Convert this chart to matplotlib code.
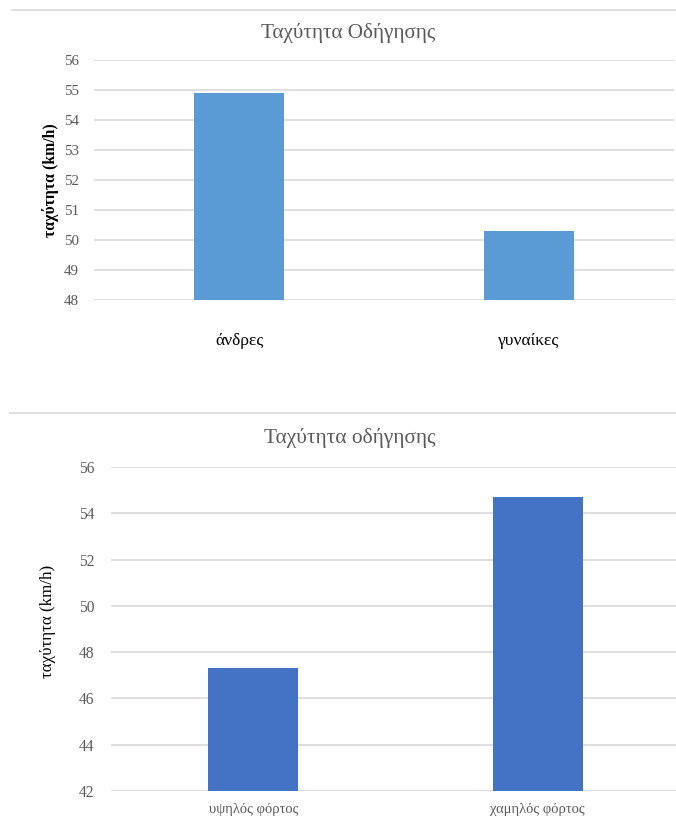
import matplotlib
matplotlib.use("Agg")
import matplotlib.pyplot as plt
from matplotlib.lines import Line2D

plt.rcParams['font.family'] = ['Liberation Serif', 'DejaVu Serif']

# Data
gender_labels = ['άνδρες', 'γυναίκες']
gender_speed = [54.9, 50.3]
gender_ticks = [48, 49, 50, 51, 52, 53, 54, 55, 56]

load_labels = ['υψηλός φόρτος', 'χαμηλός φόρτος']
load_speed = [47.3, 54.7]
load_ticks = [42, 44, 46, 48, 50, 52, 54, 56]

grid_col = '#D9D9D9'
text_grey = '#595959'

fig = plt.figure(figsize=(6.76, 8.16), dpi=100)
W, H = 676, 816


def px_axes(left, top, right, bottom):
    return fig.add_axes([left / W, 1 - bottom / H, (right - left) / W, (bottom - top) / H])


def style(ax, ticks, tick_size):
    ax.set_ylim(ticks[0], ticks[-1])
    ax.set_yticks(ticks)
    ax.set_xlim(-0.5, 1.5)
    ax.grid(axis='y', color=grid_col, linewidth=1.2)
    ax.set_axisbelow(True)
    for s in ax.spines.values():
        s.set_visible(False)
    ax.tick_params(length=0)
    for lab in ax.get_yticklabels():
        lab.set_color(text_grey)
        lab.set_fontsize(tick_size)


# separator lines
fig.add_artist(Line2D([12 / W, 1], [1 - 10 / H] * 2, color=grid_col, lw=1.2))
fig.add_artist(Line2D([10 / W, 1], [1 - 413 / H] * 2, color=grid_col, lw=1.2))

# --- top chart ---
ax1 = px_axes(94, 60, 674, 300)
ax1.bar(range(len(gender_labels)), gender_speed, width=0.31, color='#5B9BD5', zorder=3)
style(ax1, gender_ticks, 10.8)
ax1.tick_params(axis='y', pad=11)
ax1.set_xticks(range(len(gender_labels)))
ax1.set_xticklabels(gender_labels, fontsize=12.6, color='black')
ax1.tick_params(axis='x', pad=24)
ax1.set_ylabel('ταχύτητα (km/h)', fontsize=11.3, fontweight='bold', color='black')
ax1.yaxis.set_label_coords(-0.06, 0.5)
fig.text(348 / W, 1 - 33 / H, 'Ταχύτητα Οδήγησης', ha='center', va='center',
         fontsize=15.2, color=text_grey)

# --- bottom chart ---
ax2 = px_axes(111, 467, 680, 791)
ax2.bar(range(len(load_labels)), load_speed, width=0.315, color='#4472C4', zorder=3)
style(ax2, load_ticks, 11.2)
ax2.tick_params(axis='y', pad=12)
ax2.set_xticks(range(len(load_labels)))
ax2.set_xticklabels(load_labels, fontsize=10.5, color=text_grey)
ax2.tick_params(axis='x', pad=9)
ax2.set_ylabel('ταχύτητα (km/h)', fontsize=12.2, color='black')
ax2.yaxis.set_label_coords(-0.096, 0.523)
fig.text(350 / W, 1 - 438 / H, 'Ταχύτητα οδήγησης', ha='center', va='center',
         fontsize=15.4, color=text_grey)

fig.savefig('out.png', dpi=100)
